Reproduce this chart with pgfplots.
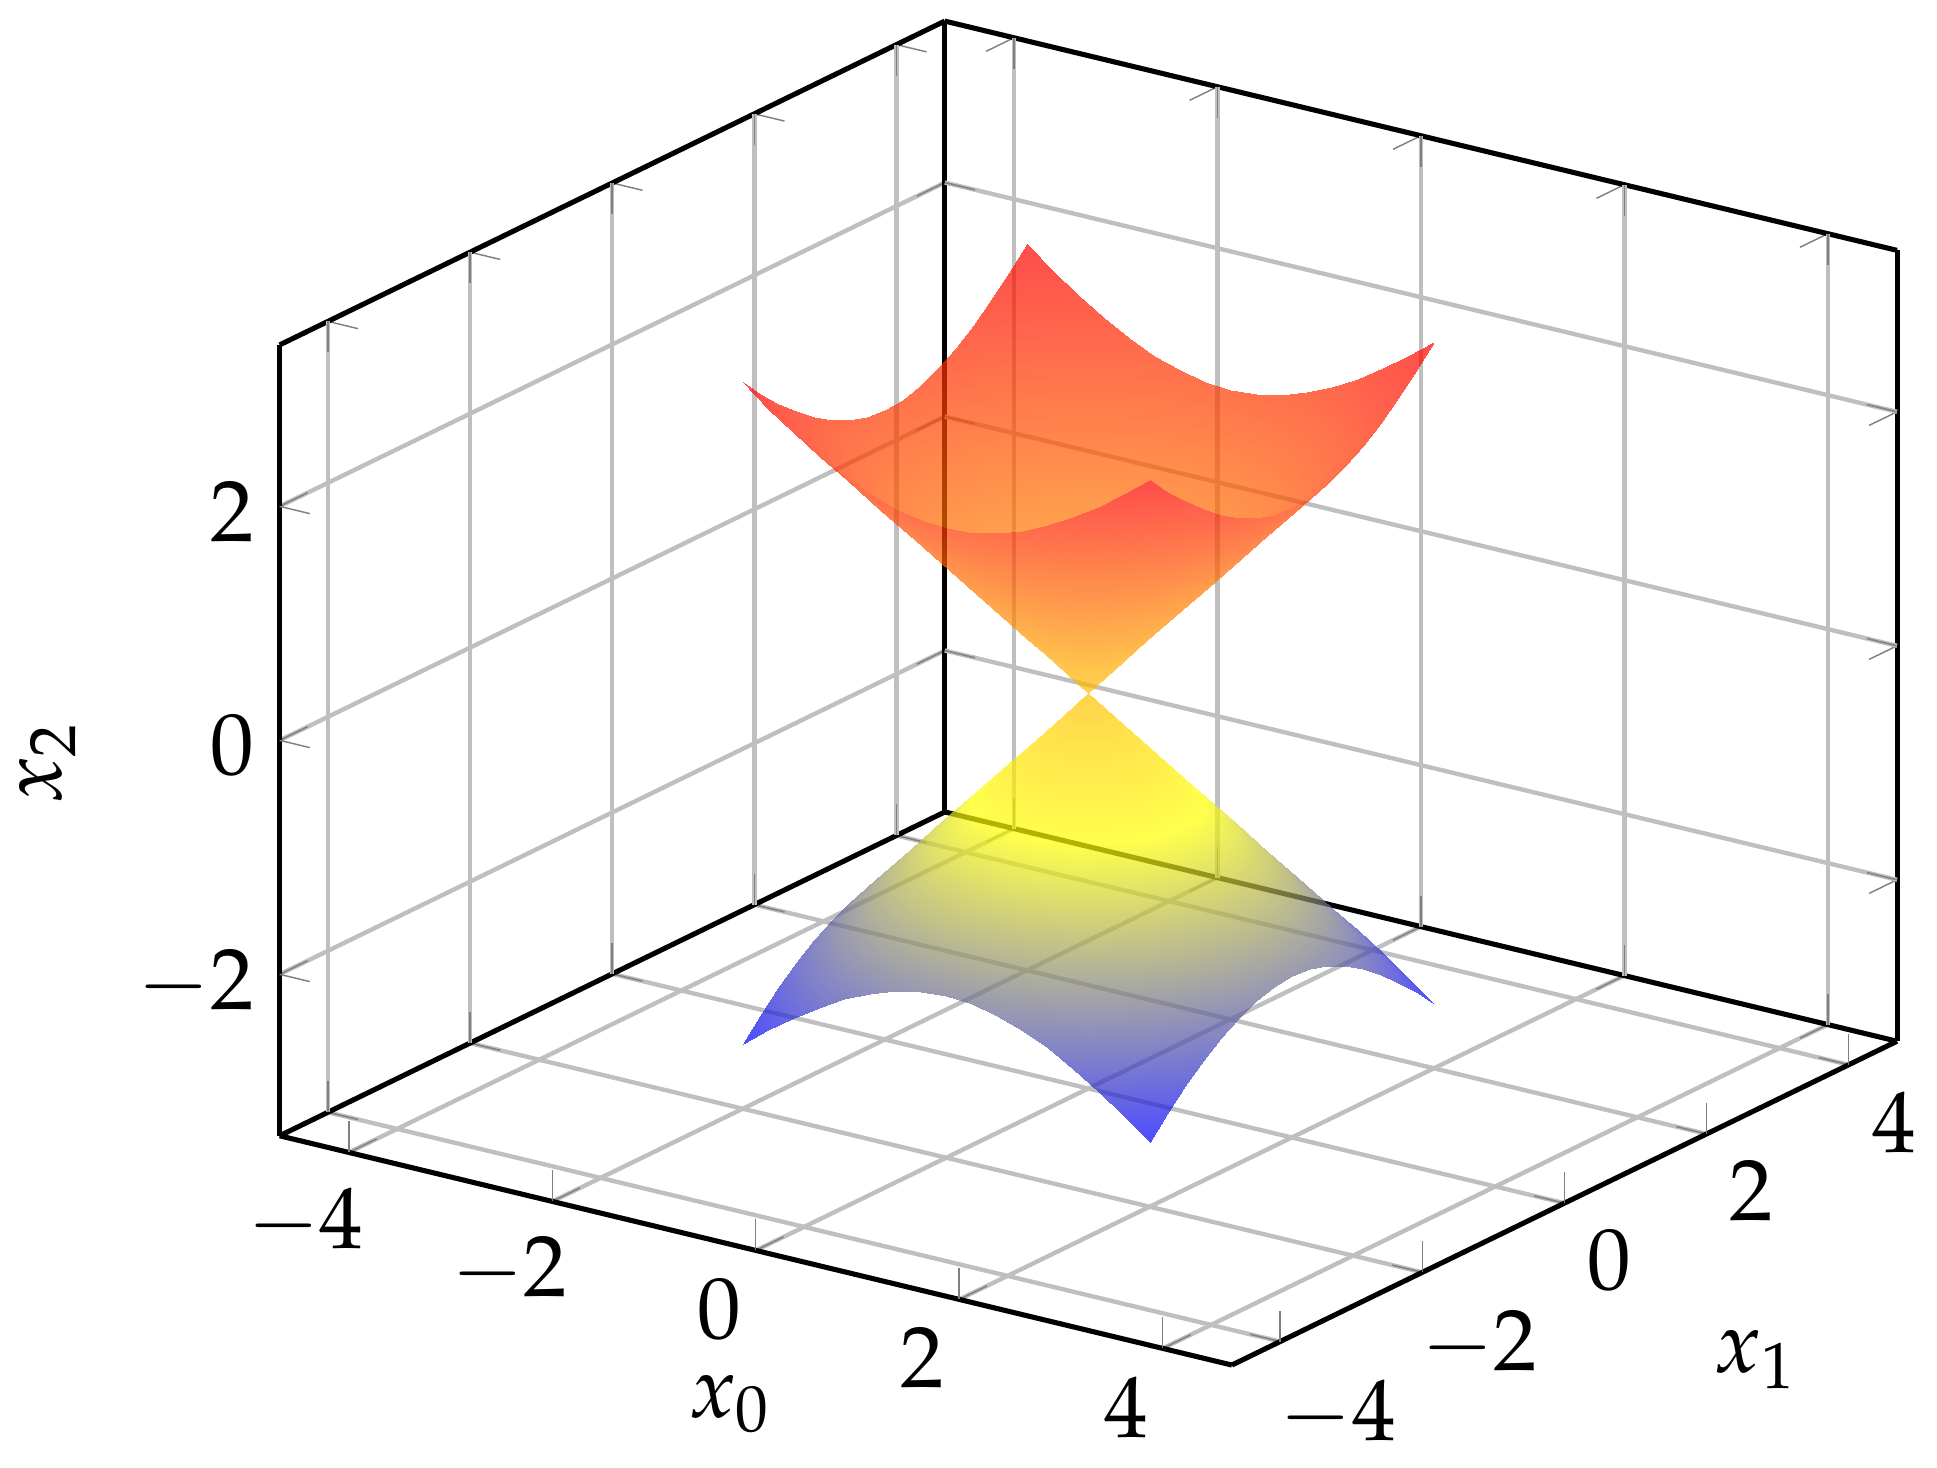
\documentclass[border=0pt]{standalone}
\usepackage{mathpazo}
\usepackage{pgfplots}
\usepackage{pgfplotstable}
\pgfplotsset{compat=1.18}
\pgfplotstableread[row sep=\\]{
x y z\\
-2 -2 2.8284\\ -1.75 -2 2.6575\\ -1.5 -2 2.5\\ -1.25 -2 2.3585\\ -1 -2 2.2361\\ -0.75 -2 2.136\\ -0.5 -2 2.0616\\ -0.25 -2 2.0156\\ 0 -2 2\\ 0.25 -2 2.0156\\ 0.5 -2 2.0616\\ 0.75 -2 2.136\\ 1 -2 2.2361\\ 1.25 -2 2.3585\\ 1.5 -2 2.5\\ 1.75 -2 2.6575\\ 2 -2 2.8284\\
-2 -1.75 2.6575\\ -1.75 -1.75 2.4749\\ -1.5 -1.75 2.3049\\ -1.25 -1.75 2.1506\\ -1 -1.75 2.0156\\ -0.75 -1.75 1.9039\\ -0.5 -1.75 1.82\\ -0.25 -1.75 1.7678\\ 0 -1.75 1.75\\ 0.25 -1.75 1.7678\\ 0.5 -1.75 1.82\\ 0.75 -1.75 1.9039\\ 1 -1.75 2.0156\\ 1.25 -1.75 2.1506\\ 1.5 -1.75 2.3049\\ 1.75 -1.75 2.4749\\ 2 -1.75 2.6575\\
-2 -1.5 2.5\\ -1.75 -1.5 2.3049\\ -1.5 -1.5 2.1213\\ -1.25 -1.5 1.9526\\ -1 -1.5 1.8028\\ -0.75 -1.5 1.6771\\ -0.5 -1.5 1.5811\\ -0.25 -1.5 1.5207\\ 0 -1.5 1.5\\ 0.25 -1.5 1.5207\\ 0.5 -1.5 1.5811\\ 0.75 -1.5 1.6771\\ 1 -1.5 1.8028\\ 1.25 -1.5 1.9526\\ 1.5 -1.5 2.1213\\ 1.75 -1.5 2.3049\\ 2 -1.5 2.5\\
-2 -1.25 2.3585\\ -1.75 -1.25 2.1506\\ -1.5 -1.25 1.9526\\ -1.25 -1.25 1.7678\\ -1 -1.25 1.6008\\ -0.75 -1.25 1.4577\\ -0.5 -1.25 1.3463\\ -0.25 -1.25 1.2748\\ 0 -1.25 1.25\\ 0.25 -1.25 1.2748\\ 0.5 -1.25 1.3463\\ 0.75 -1.25 1.4577\\ 1 -1.25 1.6008\\ 1.25 -1.25 1.7678\\ 1.5 -1.25 1.9526\\ 1.75 -1.25 2.1506\\ 2 -1.25 2.3585\\
-2 -1 2.2361\\ -1.75 -1 2.0156\\ -1.5 -1 1.8028\\ -1.25 -1 1.6008\\ -1 -1 1.4142\\ -0.75 -1 1.25\\ -0.5 -1 1.118\\ -0.25 -1 1.0308\\ 0 -1 1\\ 0.25 -1 1.0308\\ 0.5 -1 1.118\\ 0.75 -1 1.25\\ 1 -1 1.4142\\ 1.25 -1 1.6008\\ 1.5 -1 1.8028\\ 1.75 -1 2.0156\\ 2 -1 2.2361\\
-2 -0.75 2.136\\ -1.75 -0.75 1.9039\\ -1.5 -0.75 1.6771\\ -1.25 -0.75 1.4577\\ -1 -0.75 1.25\\ -0.75 -0.75 1.0607\\ -0.5 -0.75 0.9014\\ -0.25 -0.75 0.7906\\ 0 -0.75 0.75\\ 0.25 -0.75 0.7906\\ 0.5 -0.75 0.9014\\ 0.75 -0.75 1.0607\\ 1 -0.75 1.25\\ 1.25 -0.75 1.4577\\ 1.5 -0.75 1.6771\\ 1.75 -0.75 1.9039\\ 2 -0.75 2.136\\
-2 -0.5 2.0616\\ -1.75 -0.5 1.82\\ -1.5 -0.5 1.5811\\ -1.25 -0.5 1.3463\\ -1 -0.5 1.118\\ -0.75 -0.5 0.9014\\ -0.5 -0.5 0.7071\\ -0.25 -0.5 0.559\\ 0 -0.5 0.5\\ 0.25 -0.5 0.559\\ 0.5 -0.5 0.7071\\ 0.75 -0.5 0.9014\\ 1 -0.5 1.118\\ 1.25 -0.5 1.3463\\ 1.5 -0.5 1.5811\\ 1.75 -0.5 1.82\\ 2 -0.5 2.0616\\
-2 -0.25 2.0156\\ -1.75 -0.25 1.7678\\ -1.5 -0.25 1.5207\\ -1.25 -0.25 1.2748\\ -1 -0.25 1.0308\\ -0.75 -0.25 0.7906\\ -0.5 -0.25 0.559\\ -0.25 -0.25 0.3536\\ 0 -0.25 0.25\\ 0.25 -0.25 0.3536\\ 0.5 -0.25 0.559\\ 0.75 -0.25 0.7906\\ 1 -0.25 1.0308\\ 1.25 -0.25 1.2748\\ 1.5 -0.25 1.5207\\ 1.75 -0.25 1.7678\\ 2 -0.25 2.0156\\
-2 0 2\\ -1.75 0 1.75\\ -1.5 0 1.5\\ -1.25 0 1.25\\ -1 0 1\\ -0.75 0 0.75\\ -0.5 0 0.5\\ -0.25 0 0.25\\ 0 0 0\\ 0.25 0 0.25\\ 0.5 0 0.5\\ 0.75 0 0.75\\ 1 0 1\\ 1.25 0 1.25\\ 1.5 0 1.5\\ 1.75 0 1.75\\ 2 0 2\\
-2 0.25 2.0156\\ -1.75 0.25 1.7678\\ -1.5 0.25 1.5207\\ -1.25 0.25 1.2748\\ -1 0.25 1.0308\\ -0.75 0.25 0.7906\\ -0.5 0.25 0.559\\ -0.25 0.25 0.3536\\ 0 0.25 0.25\\ 0.25 0.25 0.3536\\ 0.5 0.25 0.559\\ 0.75 0.25 0.7906\\ 1 0.25 1.0308\\ 1.25 0.25 1.2748\\ 1.5 0.25 1.5207\\ 1.75 0.25 1.7678\\ 2 0.25 2.0156\\
-2 0.5 2.0616\\ -1.75 0.5 1.82\\ -1.5 0.5 1.5811\\ -1.25 0.5 1.3463\\ -1 0.5 1.118\\ -0.75 0.5 0.9014\\ -0.5 0.5 0.7071\\ -0.25 0.5 0.559\\ 0 0.5 0.5\\ 0.25 0.5 0.559\\ 0.5 0.5 0.7071\\ 0.75 0.5 0.9014\\ 1 0.5 1.118\\ 1.25 0.5 1.3463\\ 1.5 0.5 1.5811\\ 1.75 0.5 1.82\\ 2 0.5 2.0616\\
-2 0.75 2.136\\ -1.75 0.75 1.9039\\ -1.5 0.75 1.6771\\ -1.25 0.75 1.4577\\ -1 0.75 1.25\\ -0.75 0.75 1.0607\\ -0.5 0.75 0.9014\\ -0.25 0.75 0.7906\\ 0 0.75 0.75\\ 0.25 0.75 0.7906\\ 0.5 0.75 0.9014\\ 0.75 0.75 1.0607\\ 1 0.75 1.25\\ 1.25 0.75 1.4577\\ 1.5 0.75 1.6771\\ 1.75 0.75 1.9039\\ 2 0.75 2.136\\
-2 1 2.2361\\ -1.75 1 2.0156\\ -1.5 1 1.8028\\ -1.25 1 1.6008\\ -1 1 1.4142\\ -0.75 1 1.25\\ -0.5 1 1.118\\ -0.25 1 1.0308\\ 0 1 1\\ 0.25 1 1.0308\\ 0.5 1 1.118\\ 0.75 1 1.25\\ 1 1 1.4142\\ 1.25 1 1.6008\\ 1.5 1 1.8028\\ 1.75 1 2.0156\\ 2 1 2.2361\\
-2 1.25 2.3585\\ -1.75 1.25 2.1506\\ -1.5 1.25 1.9526\\ -1.25 1.25 1.7678\\ -1 1.25 1.6008\\ -0.75 1.25 1.4577\\ -0.5 1.25 1.3463\\ -0.25 1.25 1.2748\\ 0 1.25 1.25\\ 0.25 1.25 1.2748\\ 0.5 1.25 1.3463\\ 0.75 1.25 1.4577\\ 1 1.25 1.6008\\ 1.25 1.25 1.7678\\ 1.5 1.25 1.9526\\ 1.75 1.25 2.1506\\ 2 1.25 2.3585\\
-2 1.5 2.5\\ -1.75 1.5 2.3049\\ -1.5 1.5 2.1213\\ -1.25 1.5 1.9526\\ -1 1.5 1.8028\\ -0.75 1.5 1.6771\\ -0.5 1.5 1.5811\\ -0.25 1.5 1.5207\\ 0 1.5 1.5\\ 0.25 1.5 1.5207\\ 0.5 1.5 1.5811\\ 0.75 1.5 1.6771\\ 1 1.5 1.8028\\ 1.25 1.5 1.9526\\ 1.5 1.5 2.1213\\ 1.75 1.5 2.3049\\ 2 1.5 2.5\\
-2 1.75 2.6575\\ -1.75 1.75 2.4749\\ -1.5 1.75 2.3049\\ -1.25 1.75 2.1506\\ -1 1.75 2.0156\\ -0.75 1.75 1.9039\\ -0.5 1.75 1.82\\ -0.25 1.75 1.7678\\ 0 1.75 1.75\\ 0.25 1.75 1.7678\\ 0.5 1.75 1.82\\ 0.75 1.75 1.9039\\ 1 1.75 2.0156\\ 1.25 1.75 2.1506\\ 1.5 1.75 2.3049\\ 1.75 1.75 2.4749\\ 2 1.75 2.6575\\
-2 2 2.8284\\ -1.75 2 2.6575\\ -1.5 2 2.5\\ -1.25 2 2.3585\\ -1 2 2.2361\\ -0.75 2 2.136\\ -0.5 2 2.0616\\ -0.25 2 2.0156\\ 0 2 2\\ 0.25 2 2.0156\\ 0.5 2 2.0616\\ 0.75 2 2.136\\ 1 2 2.2361\\ 1.25 2 2.3585\\ 1.5 2 2.5\\ 1.75 2 2.6575\\ 2 2 2.8284\\
}\conetable
\begin{document}
\begin{tikzpicture}
\begin{axis}[
  anchor=origin, at={(0pt,0pt)},
  x={(14.0pt,-3.37pt)}, y={(9.78pt,4.76pt)}, z={(0pt,16.1pt)},
  xmin=-4.68, xmax=4.68, ymin=-4.68, ymax=4.68, zmin=-3.38, zmax=3.38,
  xtick={-4,-2,0,2,4}, ytick={-4,-2,0,2,4}, ztick={-2,0,2},
  xlabel={$x_0$}, ylabel={$x_1$}, zlabel={$x_2$},
  tick label style={font=\fontsize{12}{14}\selectfont},
  label style={font=\fontsize{12}{14}\selectfont},
  xlabel style={xshift=14.6pt, yshift=7.8pt},
  ylabel style={xshift=3.3pt, yshift=7.7pt},
  zlabel style={xshift=0.3pt, yshift=0.85pt},
  axis line style={line width=0.7pt},
  grid=major, grid style={gray!50, line width=0.6pt},
  major tick style={gray, line width=0.2pt},
  colormap/hot,
  point meta min=-2.8284, point meta max=2.8284,
]
\addplot3[surf, shader=interp, opacity=0.7, mesh/rows=17, mesh/cols=17]
  table[x=x, y=y, z expr=-\thisrow{z}] {\conetable};
\addplot3[surf, shader=interp, opacity=0.7, mesh/rows=17, mesh/cols=17]
  table[x=x, y=y, z=z] {\conetable};
\end{axis}
\pgfresetboundingbox
\path[use as bounding box] (-149.77pt,-106.59pt) rectangle (116.79pt,95.37pt);
\end{tikzpicture}
\end{document}
